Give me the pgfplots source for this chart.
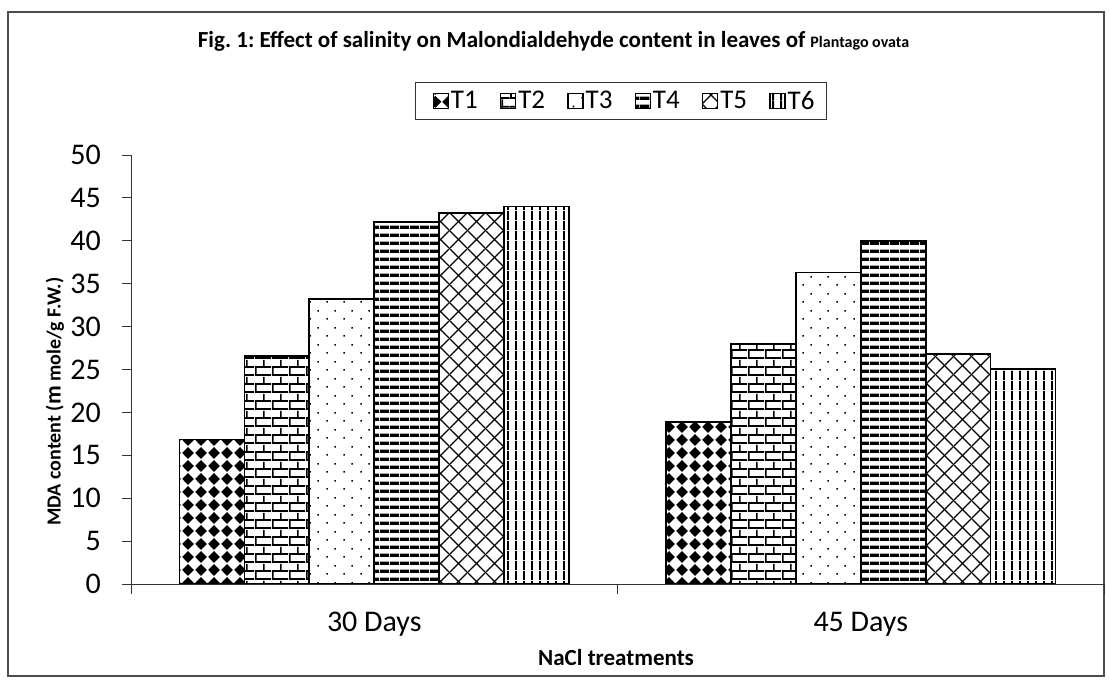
\documentclass[border=0pt]{standalone}
\usepackage{fontspec}
\setmainfont{Carlito}
\usepackage{pgfplots}
\pgfplotsset{compat=1.18}
\usetikzlibrary{patterns.meta}
\frenchspacing

% T1: diamond checker
\tikzdeclarepattern{
  name=pTa, type=uncolored,
  bottom left={(0pt,0pt)}, top right={(13pt,13pt)}, tile size={(13pt,13pt)},
  code={\fill (6.5pt,0.2pt) -- (12.8pt,6.5pt) -- (6.5pt,12.8pt) -- (0.2pt,6.5pt) -- cycle;}
}
% T2: bricks
\tikzdeclarepattern{
  name=pTb, type=uncolored,
  bottom left={(0pt,0pt)}, top right={(17pt,16.6pt)}, tile size={(17pt,16.6pt)},
  code={
    \fill (0pt,0pt) rectangle (17pt,1.8pt);
    \fill (0pt,8.3pt) rectangle (17pt,10.1pt);
    \fill (0pt,0pt) rectangle (1.8pt,8.3pt);
    \fill (8.5pt,8.3pt) rectangle (10.3pt,16.6pt);
  }
}
% T3: sparse dots
\tikzdeclarepattern{
  name=pTc, type=uncolored,
  bottom left={(0pt,0pt)}, top right={(17pt,17pt)}, tile size={(17pt,17pt)},
  code={
    \fill (3.5pt,3.5pt) rectangle (5.2pt,5.2pt);
    \fill (12pt,12pt) rectangle (13.7pt,13.7pt);
  }
}
% T4: wide horizontal stripes
\tikzdeclarepattern{
  name=pTd, type=uncolored,
  bottom left={(0pt,0pt)}, top right={(10pt,8.3pt)}, tile size={(10pt,8.3pt)},
  code={\fill (0pt,0pt) rectangle (10pt,3.6pt);}
}
% T5: diagonal crosshatch
\tikzdeclarepattern{
  name=pTe, type=uncolored,
  bottom left={(0pt,0pt)}, top right={(18pt,18pt)}, tile size={(18pt,18pt)},
  code={
    \draw[line width=1.3pt] (-1pt,-1pt) -- (19pt,19pt);
    \draw[line width=1.3pt] (-1pt,19pt) -- (19pt,-1pt);
  }
}
% T6: vertical lines
\tikzdeclarepattern{
  name=pTf, type=uncolored,
  bottom left={(0pt,0pt)}, top right={(7.8pt,10pt)}, tile size={(7.8pt,10pt)},
  code={\fill (0pt,0pt) rectangle (2pt,10pt);}
}

\begin{document}
\begin{tikzpicture}[x=1pt,y=1pt]
\useasboundingbox (0,0) rectangle (1109,680);
\fill[white] (0,0) rectangle (1109,680);
\draw[line width=1.3pt, black!70] (8,4) rectangle (1104,668);
\node[anchor=base, font=\bfseries\fontsize{23}{28}\selectfont, inner sep=0pt] at (553.5,632)
  {Fig. 1: Effect of salinity on Malondialdehyde content in leaves of {\fontsize{16}{20}\selectfont Plantago ovata}};
\begin{axis}[
  at={(131pt,96pt)}, anchor=south west,
  scale only axis, width=973pt, height=429pt,
  xmin=-0.5, xmax=1.5, ymin=0, ymax=50,
  ybar=0pt, bar width=64.9pt,
  ytick={0,5,...,50},
  xtick={0,1}, xticklabels={30 Days,45 Days},
  minor xtick={-0.5,0.5,1.5},
  axis x line*=bottom, axis y line*=left,
  axis line style={-, line width=0.9pt, black!80},
  xtick pos=left, ytick pos=left,
  tick align=outside,
  major tick length=9pt, minor tick length=10pt,
  major x tick style={draw=none},
  minor x tick style={line width=0.9pt, black!80},
  major y tick style={line width=0.9pt, black!80},
  /pgf/number format/assume math mode=true,
  ticklabel style={font=\fontsize{30}{36}\selectfont, text=black},
  yticklabel style={inner sep=0pt, xshift=-21pt},
  xticklabel style={anchor=north, inner sep=0pt, yshift=-19pt},
  xlabel={NaCl treatments},
  xlabel style={font=\bfseries\fontsize{23}{28}\selectfont, at={(axis description cs:0.4985,-0.1725)}, anchor=center},
  ylabel={MDA content ({\fontsize{23}{28}\selectfont m} mole/g F.W.)},
  ylabel style={font=\bfseries\fontsize{20}{24}\selectfont, at={(axis description cs:-0.0781,0.425)}, anchor=center},
  legend style={at={(axis description cs:0.2919,1.1702)}, anchor=north west,
    draw=black!80, line width=0.8pt, font=\fontsize{27}{32}\selectfont,
    inner xsep=10pt, inner ysep=6.5pt,
    nodes={inner xsep=2pt, inner ysep=2pt},
    /tikz/every even column/.append style={column sep=13pt}},
  legend columns=6,
  legend image code/.code={\path (0pt,0pt); \draw[#1,line width=1.2pt] (7pt,-7.5pt) rectangle (22pt,7.5pt);},
]
\addplot[draw=black, line width=1.8pt, pattern=pTa] coordinates {(0,16.85) (1,18.9)};
\addplot[draw=black, line width=1.8pt, pattern=pTb] coordinates {(0,26.6) (1,28.0)};
\addplot[draw=black, line width=1.8pt, pattern=pTc] coordinates {(0,33.2) (1,36.3)};
\addplot[draw=black, line width=1.8pt, pattern=pTd] coordinates {(0,42.15) (1,40.0)};
\addplot[draw=black, line width=1.8pt, pattern=pTe] coordinates {(0,43.2) (1,26.8)};
\addplot[draw=black, line width=1.8pt, pattern=pTf] coordinates {(0,44.0) (1,25.05)};
\legend{T1,T2,T3,T4,T5,T6}
\end{axis}
\end{tikzpicture}
\end{document}
